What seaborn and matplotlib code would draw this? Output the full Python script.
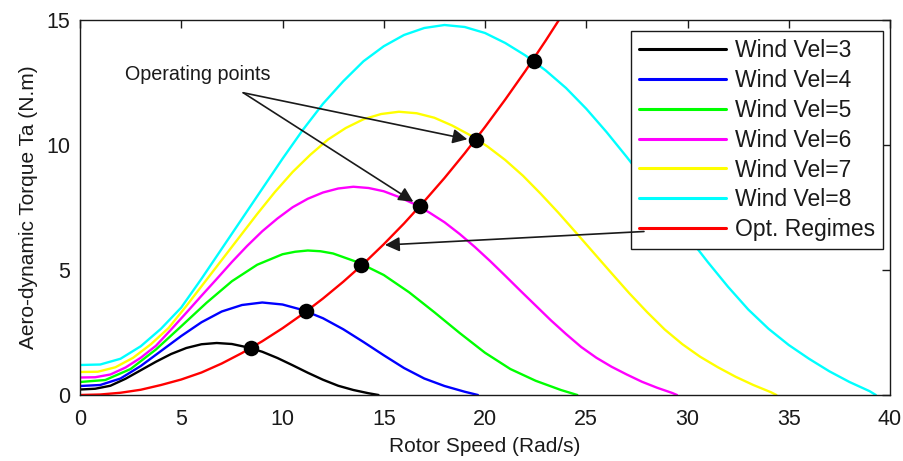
import matplotlib
matplotlib.use("Agg")
import matplotlib.pyplot as plt
import numpy as np
import pandas as pd
import seaborn as sns

# ---------------- data ----------------
labels = ["Wind Vel=3", "Wind Vel=4", "Wind Vel=5", "Wind Vel=6",
          "Wind Vel=7", "Wind Vel=8", "Opt. Regimes"]
colors = ["#000000", "#0000FF", "#00FF00", "#FF00FF", "#FFFF00", "#00FFFF", "#FF0000"]

v3_x = [0, 0.75, 1.5, 2.25, 3.0, 3.75, 4.5, 5.25, 6.0, 6.75, 7.5, 8.25, 9.0, 9.75,
        10.5, 11.25, 12.0, 12.75, 13.5, 14.25, 14.74]
v3_y = [0.22, 0.25, 0.37, 0.65, 0.99, 1.33, 1.64, 1.88, 2.03, 2.08, 2.04, 1.91, 1.73, 1.48,
        1.19, 0.89, 0.61, 0.37, 0.20, 0.07, 0.0]

v4_x = [0, 1.0, 2.0, 3.0, 4.0, 5.0, 6.0, 7.0, 8.0, 9.0, 10.0, 11.0, 12.0, 13.0,
        14.0, 15.0, 16.0, 17.0, 18.0, 19.0, 19.65]
v4_y = [0.36, 0.40, 0.66, 1.16, 1.76, 2.36, 2.91, 3.34, 3.60, 3.70, 3.62, 3.40, 3.07, 2.63,
        2.12, 1.59, 1.08, 0.66, 0.36, 0.13, 0.0]

v5_x = [0, 1.25, 2.5, 3.75, 5.0, 6.25, 7.5, 8.75, 10.0, 10.625, 11.25, 11.875, 12.5,
        13.75, 15.0, 16.25, 17.5, 18.75, 20.0, 21.25, 22.5, 23.75, 24.56]
v5_y = [0.52, 0.60, 1.04, 1.82, 2.75, 3.69, 4.55, 5.21, 5.63, 5.73, 5.78, 5.75, 5.66,
        5.30, 4.80, 4.11, 3.31, 2.48, 1.69, 1.04, 0.57, 0.20, 0.0]

v6_x = [0, 0.75, 1.5, 2.25, 3.0, 3.75, 4.5, 5.25, 6.0, 6.75, 7.5, 8.25, 9.0, 9.75,
        10.5, 11.25, 12.0, 12.75, 13.5, 14.25, 15.0, 15.75, 16.5, 17.25, 18.0, 18.75,
        19.5, 20.25, 21.0, 21.75, 22.5, 23.25, 24.0, 24.75, 25.5, 26.25, 27.0, 27.75,
        28.5, 29.25, 29.48]
v6_y = [0.70, 0.71, 0.82, 1.10, 1.49, 1.97, 2.62, 3.29, 3.97, 4.64, 5.32, 5.96, 6.55, 7.06,
        7.51, 7.85, 8.10, 8.26, 8.33, 8.28, 8.15, 7.92, 7.64, 7.30, 6.91, 6.44,
        5.92, 5.36, 4.77, 4.17, 3.58, 2.99, 2.44, 1.92, 1.49, 1.13, 0.82, 0.53,
        0.29, 0.08, 0.0]

v7_x = [0, 0.875, 1.75, 2.625, 3.5, 4.375, 5.25, 6.125, 7.0, 7.875, 8.75, 9.625, 10.5,
        11.375, 12.25, 13.125, 14.0, 14.875, 15.75, 16.625, 17.5, 18.375, 19.25, 20.125,
        21.0, 21.875, 22.75, 23.625, 24.5, 25.375, 26.25, 27.125, 28.0, 28.875, 29.75,
        30.625, 31.5, 32.375, 33.25, 34.125, 34.39]
v7_y = [0.92, 0.93, 1.11, 1.49, 2.03, 2.68, 3.56, 4.48, 5.40, 6.32, 7.24, 8.12, 8.92,
        9.61, 10.22, 10.68, 11.03, 11.24, 11.33, 11.27, 11.09, 10.78, 10.40, 9.94,
        9.40, 8.77, 8.05, 7.29, 6.49, 5.68, 4.87, 4.07, 3.32, 2.62, 2.03,
        1.53, 1.11, 0.73, 0.40, 0.11, 0.0]

v8_x = [0, 1, 2, 3, 4, 5, 6, 7, 8, 9, 10, 11, 12, 13, 14, 15, 16, 17, 18, 19, 20,
        21, 22, 23, 24, 25, 26, 27, 28, 29, 30, 31, 32, 33, 34, 35, 36, 37, 38, 39, 39.3]
v8_y = [1.20, 1.22, 1.45, 1.95, 2.65, 3.50, 4.65, 5.85, 7.05, 8.25, 9.45, 10.60, 11.65,
        12.55, 13.35, 13.95, 14.40, 14.68, 14.80, 14.72, 14.48, 14.08, 13.58, 12.98,
        12.28, 11.45, 10.52, 9.52, 8.48, 7.42, 6.36, 5.32, 4.33, 3.42, 2.65, 2.00,
        1.45, 0.95, 0.52, 0.15, 0.0]

opt_x = [0, 1, 2, 3, 4, 5, 6, 7, 8, 9, 10, 11, 12, 13, 14, 15, 16, 17, 18, 19, 20,
         21, 22, 23, 24]
opt_y = [0.0, 0.02, 0.09, 0.21, 0.40, 0.62, 0.90, 1.26, 1.68, 2.15, 2.67, 3.24, 3.86,
         4.53, 5.25, 6.03, 6.86, 7.75, 8.68, 9.67, 10.72, 11.82, 12.97, 14.18, 15.44]

op_x = [8.42, 11.17, 13.90, 16.80, 19.55, 22.40]
op_y = [1.88, 3.37, 5.20, 7.57, 10.20, 13.37]

series_x = [v3_x, v4_x, v5_x, v6_x, v7_x, v8_x, opt_x]
series_y = [v3_y, v4_y, v5_y, v6_y, v7_y, v8_y, opt_y]

# ---------------- plotting ----------------
sns.set_theme(style="white")
plt.rcParams["font.family"] = ["Liberation Sans", "DejaVu Sans"]
txtc = "#1a1a1a"

fig = plt.figure(figsize=(9.04, 4.61), dpi=100)
ax = fig.add_axes([80 / 904, 66 / 461, 810 / 904, 375 / 461])

for lab, xs, ys, col in zip(labels, series_x, series_y, colors):
    df = pd.DataFrame({"x": xs, "y": ys})
    sns.lineplot(data=df, x="x", y="y", ax=ax, color=col, linewidth=1.7,
                 label=lab, sort=False, estimator=None)

sns.scatterplot(x=op_x, y=op_y, ax=ax, color="#000000", s=125, edgecolor="#000000",
                linewidth=0, zorder=5, legend=False)

ax.set_xlim(0, 40)
ax.set_ylim(0, 15)
ax.set_xticks(np.arange(0, 41, 5))
ax.set_yticks(np.arange(0, 16, 5))
ax.tick_params(direction="in", length=6, width=1, top=True, right=True,
               labelsize=15.5, colors="k", labelcolor=txtc, pad=7)
ax.tick_params(axis="x", pad=10)
for sp in ax.spines.values():
    sp.set_color("k")
    sp.set_linewidth(1)
ax.set_xlabel("Rotor Speed (Rad/s)", fontsize=15, color=txtc, labelpad=5)
ax.set_ylabel("Aero-dynamic Torque Ta (N.m)", fontsize=15, color=txtc, labelpad=6)

leg = ax.legend(loc="upper right", bbox_to_anchor=(0.9914, 0.9707), borderaxespad=0,
                frameon=True, fancybox=False, edgecolor="k", framealpha=1,
                fontsize=16.5, handlelength=3.8, handletextpad=0.4,
                labelspacing=0.3, borderpad=0.35)
leg.get_frame().set_linewidth(1)
for t in leg.get_texts():
    t.set_color(txtc)
for h in leg.get_lines():
    h.set_linewidth(2.2)

ax.text(2.22, 12.8, "Operating points", fontsize=14.2, color="k", va="center", ha="left")
arr = dict(arrowstyle="-|>", mutation_scale=22, lw=1.2, color="k", shrinkA=0, shrinkB=0)
ax.annotate("", xy=(19.13, 10.23), xytext=(8.06, 12.09), arrowprops=arr, zorder=7)
ax.annotate("", xy=(16.46, 7.73), xytext=(8.06, 12.09), arrowprops=arr, zorder=7)
ax.annotate("", xy=(15.06, 6.0), xytext=(27.85, 6.54), arrowprops=arr, zorder=7)

fig.savefig("out.png", dpi=100)
